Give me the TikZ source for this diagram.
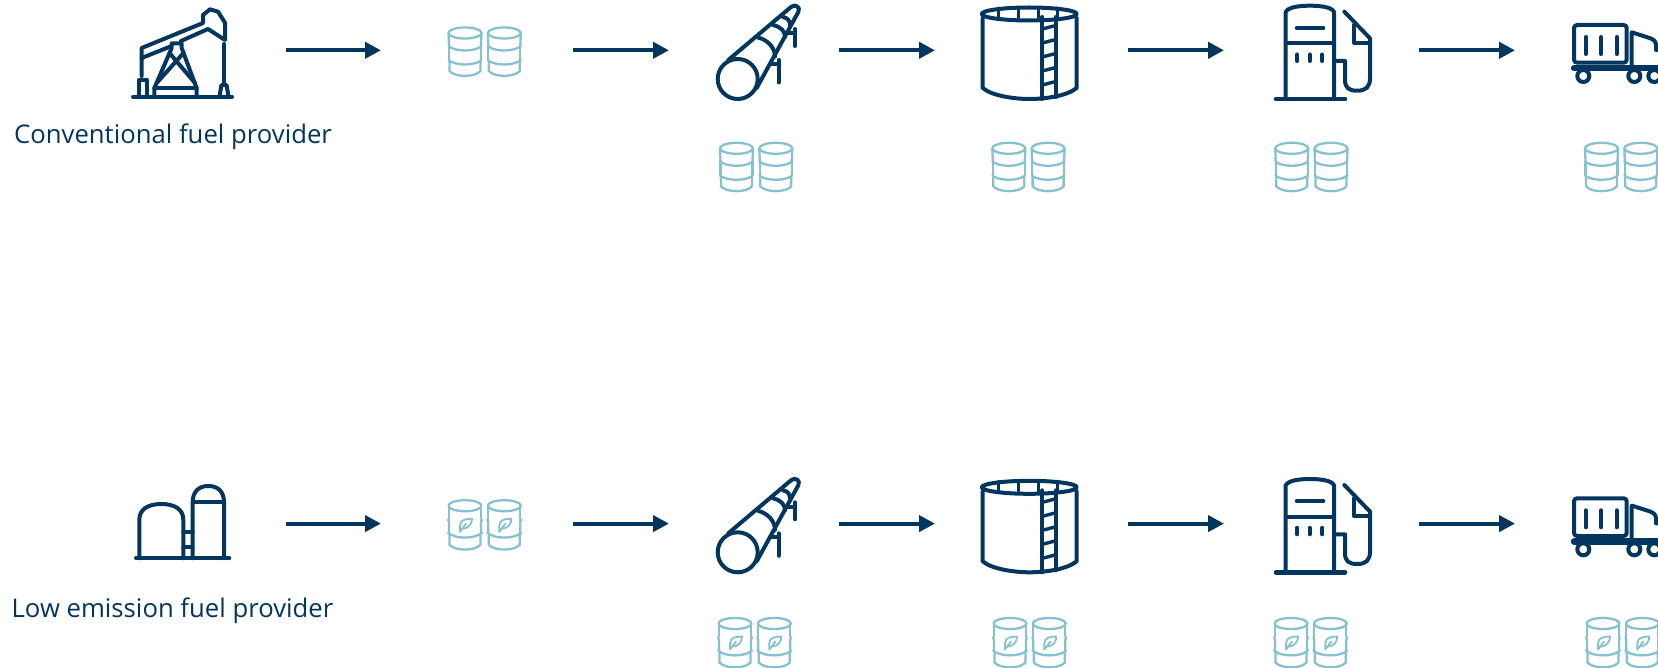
\documentclass[tikz,border=0pt]{standalone}
\usepackage{fontspec}
\setmainfont{Open Sans}
\usetikzlibrary{arrows.meta}
\definecolor{navy}{HTML}{03365F}
\definecolor{barrelblue}{HTML}{86C1D1}
\tikzset{
  icon/.style={navy,line width=2pt,line join=round,line cap=round},
  barrel/.style={barrelblue,line width=1.15pt,line join=round,line cap=round},
  flow/.style={navy,line width=2pt,shorten >=-0.7pt,-{Triangle[length=8pt,width=8pt]}},
  stage/.style={inner sep=0pt,minimum height=20pt},
  provider/.style={navy,font=\fontsize{12.85}{15}\selectfont,inner sep=0pt},
  onebarrel/.pic={
    \draw[barrel] (0,0) ellipse (16.5 and 5.5);
    \draw[barrel] (-16.5,0) -- (-16,13) (16.5,0) -- (16,13);
    \draw[barrel] (-16.5,13) .. controls (-10,19) and (10,19) .. (16.5,13);
    \draw[barrel] (-16,14) -- (-16,27) (16,14) -- (16,27);
    \draw[barrel] (-16.5,27) .. controls (-10,33) and (10,33) .. (16.5,27);
    \draw[barrel] (-15.5,28) -- (-15.5,38) .. controls (-10,44.5) and (10,44.5) .. (15.5,38) -- (15.5,28);
  },
  plainbarrels/.pic={
    \pic at (0,0) {onebarrel};
    \pic at (39.3,0) {onebarrel};
  },
  oneleafbarrel/.pic={
    \draw[barrel] (0,0) ellipse (16.5 and 5.5);
    \draw[barrel] (-16,0) -- (-16,13) (16,0) -- (16,13);
    \draw[barrel] (-17,14) -- (-16,16) -- (-16,27) (17,14) -- (16,16) -- (16,27);
    \draw[barrel] (-17,27) .. controls (-10,33.5) and (10,33.5) .. (17,27);
    \draw[barrel] (-15.5,29) -- (-15.5,39) .. controls (-10,45.5) and (10,45.5) .. (15.5,39) -- (15.5,29);
    \draw[barrel,line width=0.9pt] (-5,26) -- (-5,20) .. controls (-5,14) and (1,13) .. (7,13) .. controls (7,18) and (4,23) .. (-3,23);
    \draw[barrel,line width=0.9pt] (-5,26) -- (1,18);
  },
  leafbarrels/.pic={
    \pic at (0,0) {oneleafbarrel};
    \pic at (39.3,0) {oneleafbarrel};
  },
  pumpjack/.pic={
    \draw[icon] (133,96.7) -- (232,96.7);
    \draw[icon] (139,96) -- (139,80) -- (147,80) -- (147,96);
    \draw[icon] (141.7,76) -- (141.7,48) -- (203,23) -- (203,15) -- (210,9.3) -- (218,11.7) -- (225,22.7) -- (225,40) -- (208,29) -- (181,41);
    \draw[icon] (141.7,58) -- (170,46.7);
    \draw[icon] (224,44) -- (224,82);
    \draw[icon] (219.5,96) -- (221.5,85) -- (226.5,85) -- (228.5,96);
    \draw[icon] (154.3,96) -- (154.3,88.3) -- (171.7,48) -- (171.7,43.5) -- (181.7,43.5) -- (181.7,48) -- (196.7,88.3) -- (196.7,96);
    \draw[icon] (154.3,88.3) -- (196.7,88.3);
    \draw[icon] (169.5,53) -- (195,83) (183.5,53) -- (156.7,83);
  },
  silos/.pic={
    \draw[icon] (136,85) -- (229.3,85);
    \draw[icon] (139.3,85) -- (139.3,46.5) .. controls (139.3,36) and (148,30.7) .. (161.3,30.7) .. controls (174.6,30.7) and (183.3,36) .. (183.3,46.5) -- (183.3,85);
    \draw[icon] (192.7,85) -- (192.7,29) .. controls (192.7,18) and (199,12.7) .. (208.3,12.7) .. controls (217.6,12.7) and (224,18) .. (224,29) -- (224,85);
    \draw[icon] (192.7,29) -- (224,29);
    \draw[icon] (183.3,59) -- (192.7,59) (183.3,74) -- (192.7,74);
  },
  pipeline/.pic={
    \draw[icon] (737.7,79) circle (20);
    \draw[icon] (728.3,60) -- (791,7) .. controls (795,3.5) and (801,7) .. (798.3,12) -- (756.7,88);
    \draw[icon] (758,37.5) .. controls (768,40) and (775,48) .. (775,56.5);
    \draw[icon] (773,25) .. controls (781,27) and (785,31) .. (785,37);
    \draw[icon] (783,17) .. controls (788,18) and (790,21) .. (790,25);
    \draw[icon] (770,64) -- (778.5,64) (778.5,60) -- (778.5,82.5);
    \draw[icon] (786,33.5) -- (795,33.5) (795,29) -- (795,46);
  },
  tank/.pic={
    \draw[icon] (1029.3,14) ellipse (47.5 and 6.5);
    \draw[icon] (982.7,18) -- (982.7,88) .. controls (992,96) and (1015,99) .. (1029.3,99) .. controls (1045,99) and (1067,96) .. (1076.7,88) -- (1076.7,18);
    \draw[icon] (1042.3,17) -- (1042.3,99) (1055.7,17) -- (1055.7,97);
    \foreach \ry in {29,43,57,71,85}
      \draw[icon,line width=1.7pt] (1042.3,\ry) -- (1055.7,\ry-3.5);
    \foreach \tx in {998,1018,1038,1057}
      \draw[icon,line width=1.5pt] (\tx,8) -- (\tx,18);
  },
  fuelpump/.pic={
    \draw[icon,line width=2.3pt] (1276,99) -- (1345,99);
    \draw[icon] (1285.7,99) -- (1285.7,12) .. controls (1288,7) and (1300,5.7) .. (1310,5.7) .. controls (1320,5.7) and (1332,7) .. (1334,12) -- (1334,99);
    \draw[icon] (1285.7,43.3) -- (1334,43.3);
    \draw[icon] (1296.7,27.7) -- (1323.3,27.7);
    \foreach \tx in {1297,1309.7,1322.3}
      \draw[icon] (\tx,54.5) -- (\tx,61);
    \draw[icon] (1334,61) -- (1345,61) -- (1345,80) .. controls (1345,88) and (1349,90.7) .. (1357,90.7) .. controls (1366,90.7) and (1370,87) .. (1370,78) -- (1370,38.3) -- (1344.3,11.7);
    \draw[icon] (1354,25) -- (1354,42.7) -- (1370,42.7);
  },
  truck/.pic={
    \draw[icon,rounded corners=1.5pt] (1574,25) rectangle (1626.7,62.7);
    \foreach \tx in {1585.7,1601,1616.7}
      \draw[icon] (\tx,37) -- (\tx,54);
    \draw[icon,line width=3.2pt] (1574,68.3) -- (1670,68.3);
    \draw[icon] (1631.7,68) -- (1631.7,32.3) -- (1648,37.5) .. controls (1653,39) and (1656,41) .. (1656,45) -- (1656,50) -- (1670,50) ;
    \draw[icon] (1583.3,76) circle (6);
    \draw[icon] (1634.3,76) circle (6);
    \draw[icon] (1654.3,76) circle (6);
  },
}
\begin{document}
\begin{tikzpicture}[x=0.5pt,y=-0.5pt]
\useasboundingbox (0,0) rectangle (1658,668);
\clip (0,0) rectangle (1658,668);
% Two chains, one under the other
\foreach \row/\ytop in {a/0,b/473.3}{
  \node[stage,minimum width=78pt] (provider\row) at (208,50.3+\ytop) {};
  \node[stage,minimum width=96.5pt] (store\row) at (476.5,50.3+\ytop) {};
  \node[stage,minimum width=85.5pt] (pipe\row) at (753.5,50.3+\ytop) {};
  \node[stage,minimum width=97pt] (tank\row) at (1031,50.3+\ytop) {};
  \node[stage,minimum width=98pt] (pump\row) at (1321,50.3+\ytop) {};
  \node[stage,minimum width=72pt] (truck\row) at (1586,50.3+\ytop) {};
  \draw[flow] (provider\row) -- (store\row);
  \draw[flow] (store\row) -- (pipe\row);
  \draw[flow] (pipe\row) -- (tank\row);
  \draw[flow] (tank\row) -- (pump\row);
  \draw[flow] (pump\row) -- (truck\row);
  \pic at (0,\ytop) {pipeline};
  \pic at (0,\ytop) {tank};
  \pic at (0,\ytop) {fuelpump};
  \pic at (0,\ytop) {truck};
}
\pic at (0,0) {pumpjack};
\pic at (0,473.3) {silos};
% Barrels
\pic at (465,33) {plainbarrels};
\foreach \bx in {736.5,1008.8,1291.7,1601.5}
  \pic at (\bx,148.3) {plainbarrels};
\pic at (465,505.7) {leafbarrels};
\foreach \bx in {735,1010,1291,1603}
  \pic at (\bx,623.5) {leafbarrels};
% Labels
\node[provider] (conventional) at (173,137) {Conventional fuel provider};
\node[provider] (lowemission) at (172.5,611) {Low emission fuel provider};
\end{tikzpicture}
\end{document}
